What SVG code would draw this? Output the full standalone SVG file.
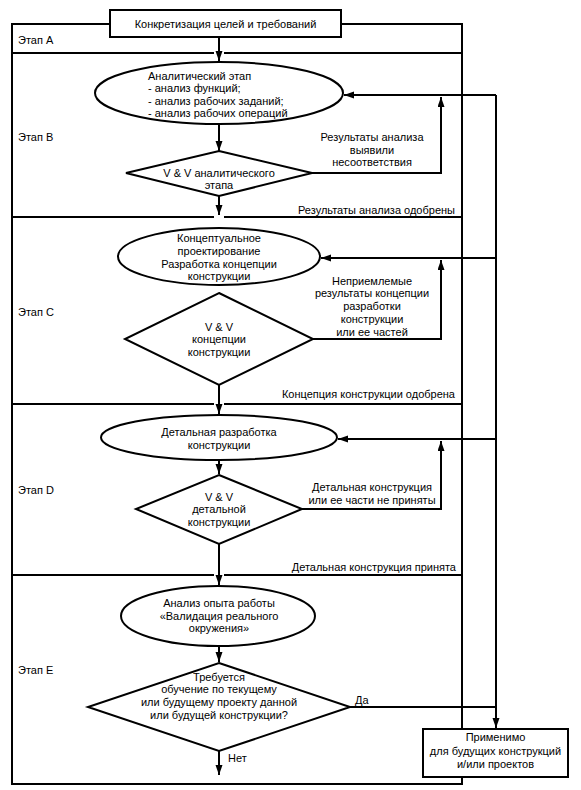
<svg xmlns="http://www.w3.org/2000/svg" width="581" height="790" viewBox="0 0 581 790">
<style>
  .ln{fill:none;stroke:#000;stroke-width:2}
  .shp{fill:#fff;stroke:#000;stroke-width:2}
  .t{font-family:"Liberation Sans",Arial,sans-serif;font-size:11px;fill:#000}
  .c{text-anchor:middle}
  .e{text-anchor:end}
</style>
<defs>
  <marker id="ah" markerUnits="userSpaceOnUse" markerWidth="11" markerHeight="8" refX="10" refY="3.5" orient="auto">
    <path d="M0,0 L10,3.5 L0,7 z" fill="#000"/>
  </marker>
</defs>
<rect width="581" height="790" fill="#fff"/>

<g id="stages">
  <rect class="ln" x="12" y="24" width="450" height="760"/>
  <path class="ln" d="M12,53 H214 M224,53 H462 M12,217 H214 M224,217 H462 M12,404 H214 M224,404 H462 M12,575 H214 M224,575 H462"/>
  <text class="t" x="18" y="44">Этап А</text>
  <text class="t" x="18" y="141">Этап В</text>
  <text class="t" x="18" y="316">Этап С</text>
  <text class="t" x="18" y="494">Этап D</text>
  <text class="t" x="18" y="674">Этап Е</text>
</g>

<g id="connectors">
  <path class="ln" d="M219,37 V61" marker-end="url(#ah)"/>
  <path class="ln" d="M219,124 V151" marker-end="url(#ah)"/>
  <path class="ln" d="M219,196 V215" marker-end="url(#ah)"/>
  <path class="ln" d="M312,173 H441 V97" marker-end="url(#ah)"/>
  <path class="ln" d="M496,95 H344" marker-end="url(#ah)"/>
  <path class="ln" d="M496,95 V728" marker-end="url(#ah)"/>
  <path class="ln" d="M496,258 H321" marker-end="url(#ah)"/>
  <path class="ln" d="M313,339 H441 V260" marker-end="url(#ah)"/>
  <path class="ln" d="M219,385 V414" marker-end="url(#ah)"/>
  <path class="ln" d="M496,439 H338" marker-end="url(#ah)"/>
  <path class="ln" d="M219,460 V474" marker-end="url(#ah)"/>
  <path class="ln" d="M302,509 H441 V441" marker-end="url(#ah)"/>
  <path class="ln" d="M219,544 V585" marker-end="url(#ah)"/>
  <path class="ln" d="M219,646 V662" marker-end="url(#ah)"/>
  <path class="ln" d="M350,707 H496"/>
  <path class="ln" d="M219,751 V775" marker-end="url(#ah)"/>
  <text class="t" x="372" y="141" text-anchor="middle">Результаты анализа</text>
  <text class="t" x="372" y="154" text-anchor="middle">выявили</text>
  <text class="t" x="372" y="166" text-anchor="middle">несоответствия</text>
  <text class="t e" x="455" y="214">Результаты анализа одобрены</text>
  <text class="t c" x="372" y="285">Неприемлемые</text>
  <text class="t c" x="372" y="297">результаты концепции</text>
  <text class="t c" x="372" y="310">разработки</text>
  <text class="t c" x="372" y="323">конструкции</text>
  <text class="t c" x="372" y="336">или ее частей</text>
  <text class="t e" x="455" y="398">Концепция конструкции одобрена</text>
  <text class="t c" x="372" y="491">Детальная конструкция</text>
  <text class="t c" x="372" y="504">или ее части не приняты</text>
  <text class="t e" x="456" y="571">Детальная конструкция принята</text>
  <text class="t" x="355" y="704">Да</text>
  <text class="t" x="228" y="762">Нет</text>
</g>

<g id="start">
  <rect class="shp" x="110" y="10" width="231" height="27"/>
  <text class="t c" x="225.5" y="28">Конкретизация целей и требований</text>
</g>

<g id="analysis">
  <ellipse class="shp" cx="219" cy="93" rx="124" ry="31"/>
  <text class="t" x="148" y="80">Аналитический этап</text>
  <text class="t" x="148" y="92">- анализ функций;</text>
  <text class="t" x="148" y="105">- анализ рабочих заданий;</text>
  <text class="t" x="148" y="117">- анализ рабочих операций</text>
</g>

<g id="vv-analysis">
  <polygon class="shp" points="219,151 312,173 219,196 126,173"/>
  <text class="t c" x="219" y="177">V &amp; V аналитического</text>
  <text class="t c" x="219" y="189">этапа</text>
</g>

<g id="concept">
  <ellipse class="shp" cx="219" cy="256.5" rx="101" ry="28.5"/>
  <text class="t c" x="219" y="242">Концептуальное</text>
  <text class="t c" x="219" y="255">проектирование</text>
  <text class="t c" x="219" y="268">Разработка концепции</text>
  <text class="t c" x="219" y="280">конструкции</text>
</g>

<g id="vv-concept">
  <polygon class="shp" points="219,293 313,339 219,385 125,339"/>
  <text class="t c" x="219" y="331">V &amp; V</text>
  <text class="t c" x="219" y="343">концепции</text>
  <text class="t c" x="219" y="356">конструкции</text>
</g>

<g id="detail">
  <ellipse class="shp" cx="219" cy="437.5" rx="118" ry="22.5"/>
  <text class="t c" x="219" y="436">Детальная разработка</text>
  <text class="t c" x="219" y="449">конструкции</text>
</g>

<g id="vv-detail">
  <polygon class="shp" points="219,475 302,509 219,544 136,509"/>
  <text class="t c" x="219" y="501">V &amp; V</text>
  <text class="t c" x="219" y="513">детальной</text>
  <text class="t c" x="219" y="526">конструкции</text>
</g>

<g id="experience">
  <ellipse class="shp" cx="218" cy="616" rx="97" ry="30"/>
  <text class="t c" x="219" y="607">Анализ опыта работы</text>
  <text class="t c" x="219" y="620">«Валидация реального</text>
  <text class="t c" x="219" y="632">окружения»</text>
</g>

<g id="training">
  <polygon class="shp" points="219,663 350,707 219,751 88,707"/>
  <text class="t c" x="219" y="681">Требуется</text>
  <text class="t c" x="219" y="693">обучение по текущему</text>
  <text class="t c" x="219" y="706">или будущему проекту данной</text>
  <text class="t c" x="219" y="719">или будущей конструкции?</text>
</g>

<g id="future">
  <rect class="shp" x="423" y="729" width="145" height="48"/>
  <text class="t c" x="495.5" y="741">Применимо</text>
  <text class="t c" x="495.5" y="755">для будущих конструкций</text>
  <text class="t c" x="495.5" y="768">и/или проектов</text>
</g>
</svg>
